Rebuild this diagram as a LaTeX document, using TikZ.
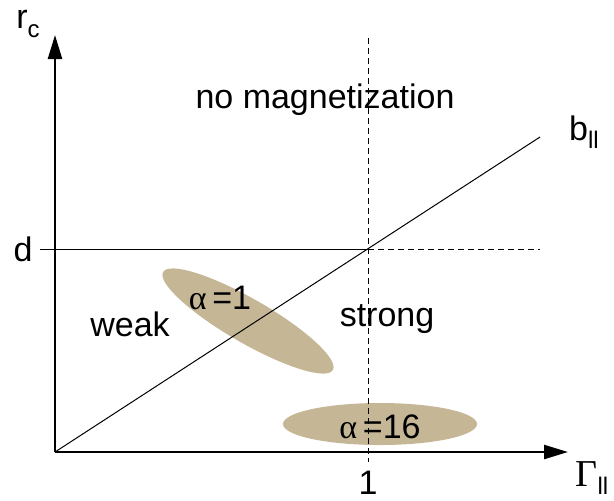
\documentclass[tikz,border=0pt]{standalone}
\usepackage{fontspec}
\setmainfont{Liberation Sans}
\newfontfamily\greekfont{Liberation Serif}
\usetikzlibrary{arrows.meta,positioning,calc}
\definecolor{sand}{RGB}{197,183,150}
\newcommand{\lowtxt}[1]{\raisebox{-0.45ex}{\fontsize{12}{14}\selectfont #1}}

\begin{document}
\begin{tikzpicture}[
  x=0.5pt, y=-0.5pt,
  axis/.style={-{Triangle[length=12pt,width=7pt]}, line width=1.2pt},
  fine/.style={line width=0.5pt},
  guide/.style={fine, dash pattern=on 3pt off 2pt},
  lab/.style={font=\fontsize{17}{20}\selectfont, inner sep=0pt},
  blob/.style={fill=sand, draw=none}
]
\useasboundingbox (0,0) rectangle (614,500);

% ===== REGIONS =====
\coordinate (e_weak) at (248,321);
\coordinate (e_strong) at (380,424);
\fill[blob, rotate around={-30:(e_weak)}] (e_weak) ellipse [x radius=98, y radius=22];
\fill[blob] (e_strong) ellipse [x radius=97, y radius=21];

% ===== AXES =====
\coordinate (origin) at (55,452);
\coordinate (y_tip) at (55,35);
\coordinate (x_tip) at (568,452);
\coordinate (d_left) at (40,249);
\coordinate (cross) at (368,249);
\coordinate (d_right) at (540,249);
\coordinate (one_top) at (368,38);
\coordinate (one_bot) at (368,462);
\coordinate (b_end) at (540,137);

\draw[fine] (d_left) -- (cross);
\draw[guide] (cross) -- (d_right);
\draw[guide] (one_top) -- (one_bot);
\draw[fine] (origin) -- (b_end);
\draw[axis] (origin) -- (y_tip);
\draw[axis] (origin) -- (x_tip);

% ===== LABELS =====
\node[lab] (rc) at (28,24) {r\lowtxt{c}};
\node[lab] (d) at (23,249) {d};
\node[lab] (b_par) at (584,132) {b\lowtxt{ll}};
\node[lab] (gamma_par) at (592,478) {{\greekfont\fontsize{19}{20}\selectfont Γ}\lowtxt{ll}};
\node[lab] (one) at (368,483) {1};
\node[lab] (nomag) at (325,100) {no magnetization};
\node[lab] (weak) at (130,324) {weak};
\node[lab] (strong) at (387,319) {strong};
\node[lab] (a1) at (220,298) {{\greekfont α}\,=1};
\node[lab] (a16) at (380,427) {{\greekfont α}\,=16};

\end{tikzpicture}
\end{document}
